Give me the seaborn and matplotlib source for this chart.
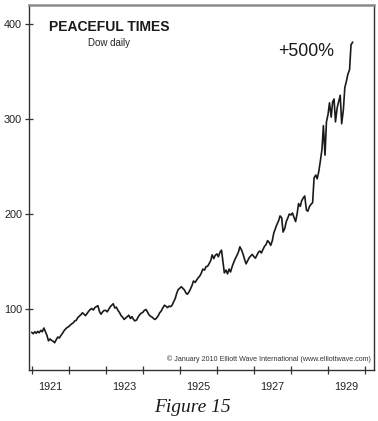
import numpy as np
import pandas as pd
import matplotlib
matplotlib.use("Agg")
import matplotlib.pyplot as plt
import seaborn as sns

# Dow Jones Industrial Average, semi-monthly readings (1st & 15th), Jan 1921 - Sep 1929
dow_1921 = [75.5, 74.0, 76.0, 74.5, 76.5, 75.0, 77.5, 76.0, 80.0, 76.5, 72.0, 66.5,
            68.5, 67.0, 66.0, 64.5, 68.0, 70.5, 69.5, 72.0, 74.5, 77.0, 79.0, 80.5]
dow_1922 = [81.5, 83.0, 84.5, 85.5, 87.5, 88.0, 91.0, 92.5, 94.0, 96.0, 94.5, 93.0,
            95.5, 97.5, 99.5, 100.5, 99.0, 101.5, 102.5, 103.5, 97.0, 94.5, 97.0, 98.5]
dow_1923 = [98.5, 97.0, 100.0, 102.5, 104.0, 105.5, 101.0, 102.0, 98.5, 96.5, 93.0, 91.5,
            89.0, 90.5, 92.0, 93.5, 90.0, 92.0, 89.0, 87.5, 88.5, 91.5, 94.0, 95.5]
dow_1924 = [96.5, 98.5, 99.5, 97.0, 94.0, 92.5, 91.5, 90.0, 89.0, 90.5, 93.0, 96.0,
            98.0, 101.0, 104.0, 103.0, 101.5, 103.0, 102.5, 104.0, 108.0, 111.0, 117.0, 120.5]
dow_1925 = [122.0, 123.5, 121.5, 120.0, 117.0, 115.5, 118.0, 121.0, 125.0, 129.5, 128.0, 130.5,
            133.0, 134.5, 138.0, 142.0, 141.0, 144.5, 145.0, 147.5, 151.0, 157.0, 153.0, 156.5]
dow_1926 = [158.0, 155.0, 160.0, 162.0, 150.0, 138.0, 141.0, 137.0, 142.0, 139.0, 145.0, 149.0,
            153.0, 156.0, 160.0, 165.5, 162.0, 158.0, 152.0, 147.5, 151.0, 154.0, 156.0, 157.5]
dow_1927 = [155.0, 153.5, 157.0, 160.0, 161.0, 159.0, 163.0, 166.0, 168.0, 172.0, 170.0, 167.0,
            172.0, 180.0, 185.0, 189.0, 193.0, 198.0, 196.0, 181.0, 185.0, 192.0, 196.0, 200.0]
dow_1928 = [199.0, 201.0, 196.0, 192.0, 200.0, 211.0, 208.0, 214.0, 217.0, 219.0, 204.0, 203.0,
            208.0, 210.0, 212.0, 238.0, 241.0, 237.0, 245.0, 255.0, 268.0, 293.0, 262.0, 297.0]
dow_1929 = [305.0, 317.0, 302.0, 318.0, 321.0, 297.0, 312.0, 318.0, 325.0, 295.0, 310.0, 333.0,
            340.0, 347.0, 352.0, 378.0, 381.0]

values = dow_1921 + dow_1922 + dow_1923 + dow_1924 + dow_1925 + dow_1926 + dow_1927 + dow_1928 + dow_1929
dates = pd.date_range("1921-01-01", periods=len(values), freq="SMS")

y_ticks = [100, 200, 300, 400]
year_ticks = list(range(1921, 1931))
year_labels = ["1921", "1923", "1925", "1927", "1929"]

title = "PEACEFUL TIMES"
subtitle = "Dow daily"
annotation = "+500%"
credit = "\u00a9 January 2010 Elliott Wave International (www.elliottwave.com)"
caption = "Figure 15"

df = pd.DataFrame({
    "year": dates.year + (dates.dayofyear - 1) / 365.0,
    "dow": values,
})

sns.set_style("white")
plt.rcParams["font.family"] = ["Liberation Sans", "DejaVu Sans"]

fig = plt.figure(figsize=(3.78, 4.21), dpi=100)
ax = fig.add_axes([29 / 378, 1 - 370 / 421, (374 - 29) / 378, (370 - 5) / 421])

sns.lineplot(data=df, x="year", y="dow", ax=ax, color="#1a1a1a", linewidth=1.2)

ax.set_xlim(1920.927, 1930.24)
ax.set_ylim(35.8, 420)

ax.set_yticks(y_ticks)
ax.set_yticklabels([str(v) for v in y_ticks], fontsize=7.8, color="#222222")
ax.set_xticks(year_ticks)
ax.set_xticklabels([])
ax.set_xticks([int(l) + 0.5 for l in year_labels], minor=True)
ax.set_xticklabels(year_labels, minor=True, fontsize=7.8, color="#222222")
ax.tick_params(axis="both", which="major", direction="inout", length=6, width=0.9,
               color="#333333", bottom=True, left=True)
ax.tick_params(axis="x", which="minor", length=0, pad=9, bottom=True)
ax.tick_params(axis="y", which="major", pad=2)

ax.set_xlabel("")
ax.set_ylabel("")

for side in ["left", "bottom", "right"]:
    ax.spines[side].set_color("#333333")
    ax.spines[side].set_linewidth(1.0)
ax.spines["top"].set_color("#8a8a8a")
ax.spines["top"].set_linewidth(1.8)

fig.text(109 / 378, 1 - 27 / 421, title, fontsize=10, fontweight="bold", ha="center", va="center", color="#1a1a1a")
fig.text(109 / 378, 1 - 43 / 421, subtitle, fontsize=7, ha="center", va="center", color="#222222")
fig.text(306 / 378, 1 - 52 / 421, annotation, fontsize=12.8, ha="center", va="center", color="#1a1a1a")
fig.text(371 / 378, 1 - 359 / 421, credit, fontsize=5.1, ha="right", va="center", color="#333333")
fig.text(192 / 378, 1 - 408 / 421, caption, fontsize=14, style="italic", ha="center", va="center",
         color="#1a1a1a", family=["Liberation Serif", "DejaVu Serif"])

fig.savefig("out.png", dpi=100, facecolor="white")
